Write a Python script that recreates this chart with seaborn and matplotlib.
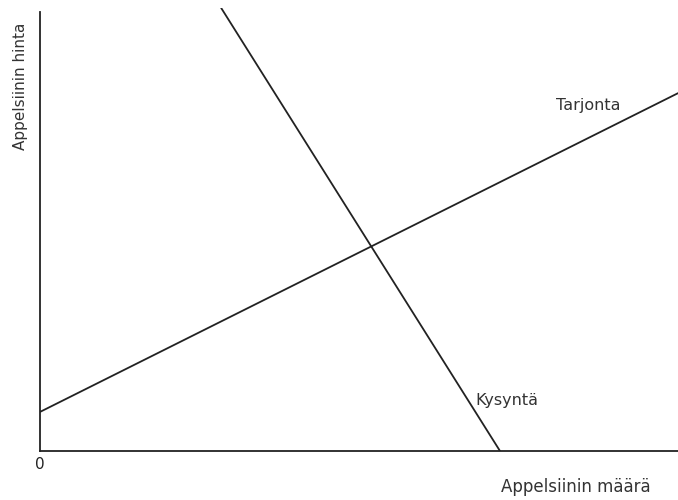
import pandas as pd
import matplotlib.pyplot as plt
import seaborn as sns

# Tarjonta- ja kysyntäkäyrien päätepisteet (määrä, hinta)
tarjonta_maara = [0, 100]
tarjonta_hinta = [8.9, 81.5]
kysynta_maara = [28.4, 72.1]
kysynta_hinta = [100.9, 0]

sns.set_style("white")
plt.rcParams['font.family'] = ['DejaVu Sans']

df = pd.concat([
    pd.DataFrame({'maara': tarjonta_maara, 'hinta': tarjonta_hinta, 'kayra': 'Tarjonta'}),
    pd.DataFrame({'maara': kysynta_maara, 'hinta': kysynta_hinta, 'kayra': 'Kysyntä'}),
])

fig = plt.figure(figsize=(6.78, 5), dpi=100)
ax = fig.add_axes([40 / 678, 49 / 500, 638 / 678, 443 / 500])

sns.lineplot(data=df, x='maara', y='hinta', units='kayra', estimator=None,
             color='#222222', linewidth=1.3, ax=ax, sort=False)

ax.set_xlim(0, 100)
ax.set_ylim(0, 100.9)

for s in ['top', 'right']:
    ax.spines[s].set_visible(False)
ax.spines['left'].set_bounds(0, 100)
for s in ['left', 'bottom']:
    ax.spines[s].set_color('#222222')
    ax.spines[s].set_linewidth(1.3)

ax.set_xticks([0])
ax.set_xticklabels(['0'])
ax.set_yticks([])
ax.tick_params(axis='x', length=0, pad=4, labelsize=11, labelcolor='#222222')

ax.text(80.9, 78.8, 'Tarjonta', fontsize=11.5, color='#333333', ha='left', va='center')
ax.text(68.3, 11.6, 'Kysyntä', fontsize=11.5, color='#333333', ha='left', va='center')

ax.set_xlabel('Appelsiinin määrä', fontsize=12, color='#333333')
ax.xaxis.set_label_coords(0.84, -0.081)
ax.xaxis.label.set_va('center')
ax.set_ylabel('Appelsiinin hinta', fontsize=11, color='#333333')
ax.yaxis.set_label_coords(-0.030, 0.823)
ax.yaxis.label.set_va('center')

plt.savefig('out.png', dpi=100)
